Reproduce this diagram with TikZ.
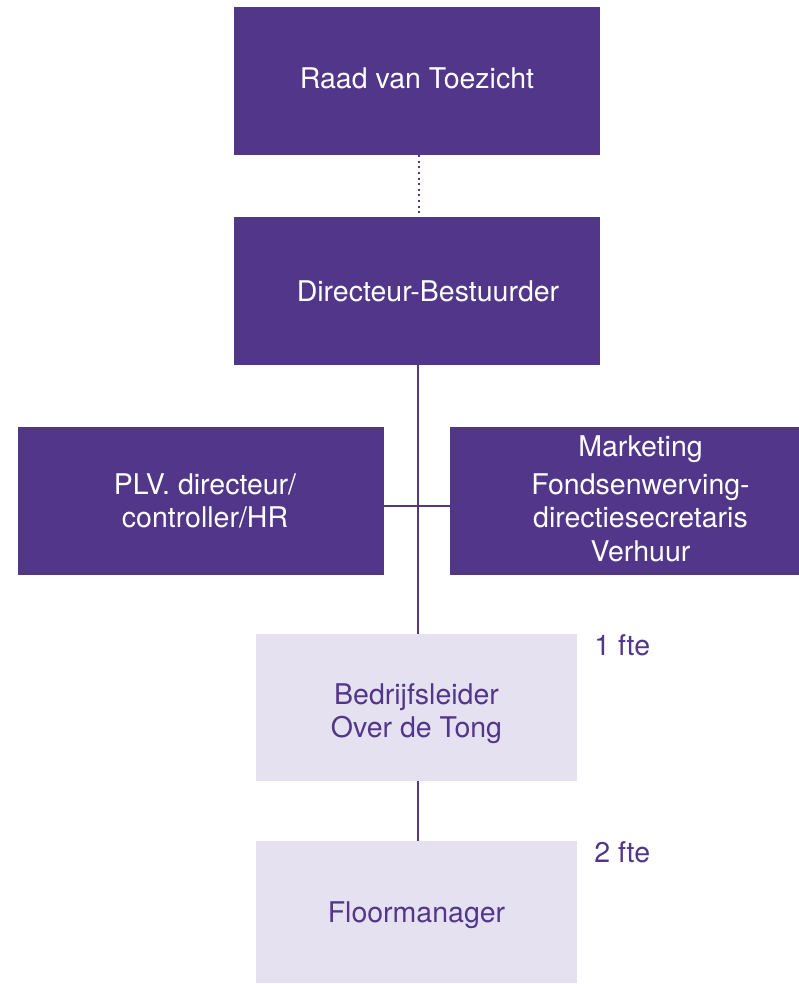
\documentclass[tikz,border=0pt]{standalone}
\usepackage{fontspec}
\setmainfont{TeX Gyre Heros}
\usetikzlibrary{positioning}
\definecolor{orgpurple}{HTML}{51368A}
\definecolor{orglilac}{HTML}{E5E1F1}

\begin{document}
\begin{tikzpicture}[
    x=1pt, % one pixel of the layout
    y=-1pt, % y runs downwards, like the layout
    every node/.style={font=\fontsize{28.5}{33.5}\selectfont, inner sep=0pt},
    dark box/.style={fill=orgpurple, minimum width=366pt, minimum height=148pt},
    light box/.style={fill=orglilac, minimum width=321pt, minimum height=147pt},
    dark text/.style={text=white, align=center},
    light text/.style={text=orgpurple, align=center},
    link/.style={orgpurple, line width=2pt}
    ]

\useasboundingbox (0,0) rectangle (799,984);

% --- Top boxes ---
\node[dark box] (raad) at (417,81) {};
\node[dark text] at ([yshift=3pt]raad.center) {Raad van Toezicht};

\node[dark box] (dir) at (417,291) {};
\node[dark text] at ([xshift=11pt]dir.center) {Directeur-Bestuurder};

% --- Staff boxes ---
\node[dark box] (plv) at (201,501) {};
\node[dark text] at ([xshift=4pt]plv.center) {PLV. directeur/\\controller/HR};

\node[dark box, minimum width=349pt] (mkt) at (624.5,501) {};
\node[dark text] at ([xshift=16pt,yshift=2pt]mkt.center)
    {Marketing\\[4pt]Fondsenwerving-\\directiesecretaris\\Verhuur};

% --- Line boxes ---
\node[light box] (bedr) at (416.5,707.5) {};
\node[light text] at ([yshift=-6pt]bedr.center) {Bedrijfsleider\\Over de Tong};

\node[light box, minimum height=142pt] (floor) at (416.5,912) {};
\node[light text] at ([yshift=-3pt]floor.center) {Floormanager};

% --- fte labels ---
\foreach \unit/\fte in {bedr/1, floor/2} {
    \node[light text] at ([xshift=45pt,yshift=-11pt]\unit.north east) {\fte\ fte};
}

% --- Draw Connections ---
\coordinate (hub) at (418,506);
\draw[link, dash pattern=on 2pt off 3.6pt] ([xshift=2pt]raad.south) -- ([xshift=2pt]dir.north);
\draw[link] (dir.south -| hub) -- (bedr.north -| hub);
\draw[link] (plv.east |- hub) -- (mkt.west |- hub);
\draw[link] (bedr.south -| hub) -- (floor.north -| hub);

\end{tikzpicture}
\end{document}
